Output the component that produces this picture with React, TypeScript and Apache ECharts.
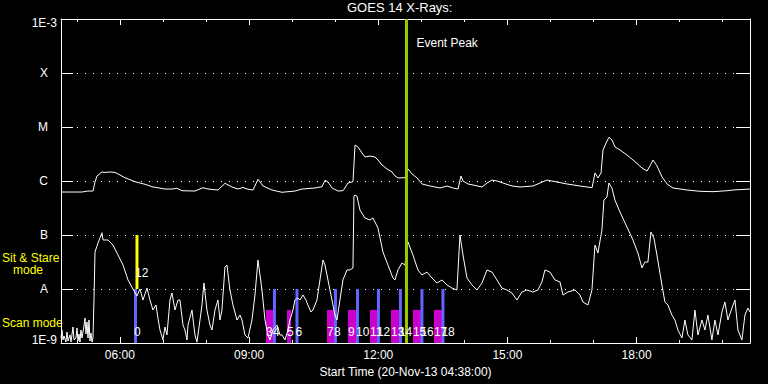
import React, { useEffect, useRef } from "react";
import * as echarts from "echarts";

const T_START = 4 + 38 / 60; // 04:38 UT
const T_END = T_START + 16;
const FONT = '"Liberation Sans", Arial, sans-serif';

const majorHours = [6, 9, 12, 15, 18];
const minorHours = [5, 6, 7, 8, 9, 10, 11, 12, 13, 14, 15, 16, 17, 18, 19, 20];
// labels for the decades 1E-9 ... 1E-3
const levelLabels = ["1E-9", "A", "B", "C", "M", "X", "1E-3"];

// GOES 14 long channel (1-8 A), [hour UT, W/m^2]
const longChannel: [number, number][] = [
  [4.633, 6.25e-7], [5.121, 6.25e-7], [5.167, 6.34e-7], [5.26, 6.52e-7], [5.376, 6.52e-7],
  [5.423, 9.58e-7], [5.469, 1.24e-6], [5.585, 1.47e-6], [5.655, 1.44e-6], [5.771, 1.47e-6],
  [5.887, 1.44e-6], [6.003, 1.29e-6], [6.119, 1.15e-6], [6.352, 9.7e-7], [6.584, 8.69e-7],
  [6.746, 7.84e-7], [7.048, 7.1e-7], [7.211, 7.1e-7], [7.327, 7.32e-7], [7.443, 6.61e-7],
  [7.745, 6.52e-7], [7.931, 7.51e-7], [8.047, 7.1e-7], [8.279, 6.81e-7], [8.442, 9.06e-7],
  [8.604, 7.74e-7], [8.744, 7.1e-7], [8.86, 7.58e-7], [8.953, 7.1e-7], [9.092, 6.81e-7],
  [9.208, 1.075e-6], [9.324, 8.08e-7], [9.533, 6.81e-7], [9.765, 6.18e-7], [10.067, 6.52e-7],
  [10.23, 7.1e-7], [10.532, 7.42e-7], [10.694, 7.84e-7], [10.764, 1.03e-6], [10.834, 9.58e-7],
  [10.927, 7.42e-7], [11.066, 6.52e-7], [11.182, 6.61e-7], [11.298, 9.18e-7], [11.414, 9.7e-7],
  [11.461, 4.64e-6], [11.53, 4.26e-6], [11.623, 3.3e-6], [11.693, 2.78e-6], [11.809, 2.9e-6],
  [11.925, 2.78e-6], [11.995, 2.45e-6], [12.088, 1.98e-6], [12.204, 1.67e-6], [12.32, 1.47e-6],
  [12.39, 1.24e-6], [12.459, 1.14e-6], [12.622, 1.15e-6], [12.692, 1.67e-6], [12.784, 1.35e-6],
  [12.901, 1.14e-6], [13.017, 8.8e-7], [13.203, 8.08e-7], [13.435, 7.42e-7], [13.597, 8.08e-7],
  [13.737, 7.42e-7], [13.853, 7.1e-7], [13.922, 1.24e-6], [13.969, 1.0e-6], [14.085, 8.8e-7],
  [14.201, 8.43e-7], [14.41, 7.74e-7], [14.526, 9.18e-7], [14.642, 1.04e-6], [14.758, 1.0e-6],
  [14.898, 9.18e-7], [15.107, 8.08e-7], [15.293, 7.74e-7], [15.594, 8.08e-7], [15.757, 9.18e-7],
  [15.92, 1.04e-6], [16.152, 9.58e-7], [16.384, 8.8e-7], [16.686, 8.08e-7], [16.965, 7.51e-7],
  [17.034, 1.41e-6], [17.104, 1.14e-6], [17.174, 1.41e-6], [17.22, 3.75e-6], [17.313, 5.5e-6],
  [17.359, 6.45e-6], [17.429, 5.74e-6], [17.499, 4.26e-6], [17.615, 3.75e-6], [17.777, 3.03e-6],
  [17.917, 2.45e-6], [18.126, 1.74e-6], [18.242, 1.53e-6], [18.311, 1.9e-6], [18.381, 2.45e-6],
  [18.474, 1.9e-6], [18.59, 1.19e-6], [18.706, 8.8e-7], [18.846, 7.42e-7], [19.171, 6.81e-7],
  [19.473, 6.45e-7], [19.775, 6.34e-7], [20.1, 6.61e-7], [20.239, 6.81e-7], [20.634, 7.1e-7],
];

// GOES 14 short channel (0.5-4 A), [hour UT, W/m^2]
const shortChannel: [number, number][] = [
  [4.633, 1.24e-9], [4.656, 1.74e-9], [4.679, 1.14e-9], [4.703, 1.35e-9], [4.749, 1.04e-9],
  [4.772, 1.6e-9], [4.796, 1.09e-9], [4.842, 1.41e-9], [4.865, 1.04e-9], [4.912, 1.98e-9],
  [4.935, 1.14e-9], [4.981, 1.24e-9], [5.005, 1.9e-9], [5.028, 1.09e-9], [5.051, 1.47e-9],
  [5.074, 1.04e-9], [5.097, 1.74e-9], [5.121, 1.24e-9], [5.167, 2.06e-9], [5.19, 2.9e-9],
  [5.214, 1.47e-9], [5.237, 2.45e-9], [5.26, 1.24e-9], [5.283, 2.67e-9], [5.306, 1.09e-9],
  [5.33, 1.53e-9], [5.353, 1.04e-9], [5.376, 1.24e-9], [5.399, 6.25e-9], [5.423, 4.84e-8],
  [5.492, 7.1e-8], [5.585, 1.1e-7], [5.608, 8.08e-8], [5.724, 8.08e-8], [5.84, 6.52e-8],
  [5.957, 4.26e-8], [6.073, 2.78e-8], [6.189, 1.47e-8], [6.305, 1.0e-8], [6.398, 7.42e-9],
  [6.467, 1.0e-8], [6.537, 6.25e-9], [6.63, 1.04e-8], [6.7, 6.25e-9], [6.769, 4.08e-9],
  [6.839, 5.05e-9], [6.885, 2.9e-9], [6.932, 1.74e-9], [7.001, 1.14e-9], [7.048, 1.98e-9],
  [7.094, 1.41e-9], [7.164, 6.25e-9], [7.21, 8.43e-9], [7.28, 4.08e-9], [7.35, 6.25e-9],
  [7.396, 6.25e-9], [7.466, 2.15e-9], [7.512, 1.74e-9], [7.559, 1.14e-9], [7.582, 2.15e-9],
  [7.675, 4.08e-9], [7.744, 1.41e-9], [7.791, 1.04e-9], [7.861, 2.67e-9], [7.907, 5.05e-9],
  [7.953, 1.29e-8], [8.023, 4.08e-9], [8.093, 2.15e-9], [8.139, 1.74e-9], [8.209, 4.08e-9],
  [8.278, 6.25e-9], [8.325, 2.67e-9], [8.371, 4.08e-9], [8.441, 2.55e-8], [8.487, 2.78e-8],
  [8.557, 9.58e-9], [8.627, 5.05e-9], [8.72, 2.67e-9], [8.789, 3.3e-9], [8.836, 2.67e-9],
  [8.905, 1.41e-9], [8.975, 1.24e-9], [9.068, 2.67e-9], [9.138, 7.74e-9], [9.207, 3.44e-8],
  [9.254, 1.82e-8], [9.3, 9.58e-9], [9.37, 2.67e-9], [9.44, 1.41e-9], [9.486, 1.14e-9],
  [9.556, 1.74e-9], [9.649, 2.15e-9], [9.718, 1.41e-9], [9.765, 1.41e-9], [9.834, 1.14e-9],
  [9.904, 1.74e-9], [9.95, 2.67e-9], [10.02, 4.08e-9], [10.066, 6.25e-9], [10.136, 6.81e-9],
  [10.183, 6.25e-9], [10.252, 7.74e-9], [10.322, 6.25e-9], [10.368, 5.05e-9], [10.438, 3.75e-9],
  [10.484, 4.08e-9], [10.577, 6.25e-9], [10.647, 1.47e-8], [10.717, 3.44e-8], [10.763, 2.78e-8],
  [10.81, 1.82e-8], [10.879, 9.58e-9], [10.949, 5.05e-9], [10.995, 3.3e-9], [11.042, 2.67e-9],
  [11.111, 6.25e-9], [11.181, 1.47e-8], [11.274, 2.25e-8], [11.344, 2.25e-8], [11.413, 2.45e-8],
  [11.437, 5.27e-7], [11.46, 5.5e-7], [11.506, 5.27e-7], [11.576, 2.9e-7], [11.692, 2.06e-7],
  [11.808, 1.9e-7], [11.878, 2.06e-7], [11.994, 1.35e-7], [12.11, 4.84e-8], [12.226, 2.78e-8],
  [12.342, 1.6e-8], [12.389, 1.47e-8], [12.458, 2.25e-8], [12.551, 3.03e-8], [12.621, 2.78e-8],
  [12.69, 7.42e-8], [12.806, 4.26e-8], [12.923, 2.25e-8], [13.015, 1.82e-8], [13.132, 2.06e-8],
  [13.248, 1.6e-8], [13.364, 1.29e-8], [13.48, 1.47e-8], [13.596, 1.19e-8], [13.712, 1.04e-8],
  [13.828, 9.58e-9], [13.898, 1.0e-7], [13.968, 4.26e-8], [14.061, 1.6e-8], [14.177, 1.19e-8],
  [14.293, 9.58e-9], [14.409, 1.29e-8], [14.525, 2.25e-8], [14.641, 2.06e-8], [14.757, 1.47e-8],
  [14.873, 1.04e-8], [14.989, 9.58e-9], [15.105, 8.43e-9], [15.221, 6.25e-9], [15.337, 8.8e-9],
  [15.454, 9.58e-9], [15.593, 8.8e-9], [15.709, 9.58e-9], [15.802, 1.35e-8], [15.871, 2.25e-8],
  [15.987, 2.06e-8], [16.104, 1.47e-8], [16.22, 1.35e-8], [16.29, 7.74e-9], [16.406, 8.8e-9],
  [16.568, 9.58e-9], [16.684, 7.74e-9], [16.754, 5.74e-9], [16.87, 5.05e-9], [16.963, 9.58e-9],
  [17.033, 6.52e-8], [17.102, 4.64e-8], [17.195, 1.24e-7], [17.241, 4.44e-7], [17.311, 5.05e-7],
  [17.357, 9.18e-7], [17.427, 7.42e-7], [17.497, 4.44e-7], [17.613, 2.67e-7], [17.775, 1.41e-7],
  [17.915, 8.08e-8], [18.031, 4.64e-8], [18.124, 2.45e-8], [18.193, 3.16e-8], [18.263, 3.16e-8],
  [18.333, 1.14e-7], [18.402, 8.8e-8], [18.472, 4.26e-8], [18.588, 1.19e-8], [18.658, 5.74e-9],
  [18.727, 5.05e-9], [18.82, 3.3e-9], [18.89, 2.67e-9], [18.96, 1.74e-9], [19.053, 1.24e-9],
  [19.122, 2.67e-9], [19.192, 1.41e-9], [19.285, 1.14e-9], [19.355, 4.08e-9], [19.424, 1.41e-9],
  [19.517, 2.67e-9], [19.587, 1.74e-9], [19.656, 3.3e-9], [19.749, 1.14e-9], [19.819, 2.67e-9],
  [19.889, 1.41e-9], [19.982, 3.75e-9], [20.051, 5.74e-9], [20.121, 2.67e-9], [20.214, 4.44e-9],
  [20.284, 6.25e-9], [20.353, 1.74e-9], [20.446, 1.14e-9], [20.516, 3.3e-9], [20.586, 4.44e-9],
  [20.632, 3.75e-9],
];

// Observation markers
const FLOOR = 1e-9;
const scanLineTop = 1e-8;
const scanBlockTop = 4.1e-9;
const scanLineTimes = [6.363, 9.59, 10.113, 11.007, 11.518, 12.005, 12.516, 13.015, 13.503];
const scanLineLabels = ["0", "4", "6", "8", "10", "12", "14", "16", "18"];
const scanBlockStart = [9.393, 9.881, 10.81, 11.297, 11.808, 12.296, 12.806, 13.294];
const scanBlockEnd = [9.579, 9.974, 11.019, 11.506, 11.971, 12.481, 12.992, 13.48];
const scanBlockLabels = ["3", "5", "7", "9", "11", "13", "15", "17"];
const stareTimes = [6.398];
const stareRange = [1e-8, 1e-7];
const stareLabels = ["12"];
const eventPeakTime = 12.656;

const fmtHour = (h: number) => String(Math.round(h)).padStart(2, "0") + ":00";

export default function App() {
  const ref = useRef<HTMLDivElement>(null);
  useEffect(() => {
    if (!ref.current) return;
    const chart = echarts.init(ref.current, null, { renderer: "svg" });

    const labelItems = [
      ...scanBlockStart.map((t, i) => ({ t, text: scanBlockLabels[i], dx: 0 })),
      ...scanLineTimes.map((t, i) => ({ t, text: scanLineLabels[i], dx: -1.5 })),
    ];

    const axisTextStyle = { color: "#fff", fontFamily: FONT, fontSize: 12 };

    const option: any = {
      animation: false,
      backgroundColor: "#000",
      title: {
        text: "GOES 14 X-Rays:",
        left: 347,
        top: 1,
        padding: 0,
        textStyle: { color: "#fff", fontFamily: FONT, fontSize: 13, fontWeight: "normal" },
      },
      grid: { left: 61, right: 18, top: 19, bottom: 41, outerBoundsMode: "none" },
      xAxis: [
        {
          type: "value",
          min: T_START,
          max: T_END,
          position: "bottom",
          axisLine: { show: true, lineStyle: { color: "#fff", width: 1 } },
          axisTick: { show: true, inside: true, length: 6, customValues: majorHours, lineStyle: { color: "#fff" } },
          axisLabel: { show: true, customValues: majorHours, formatter: fmtHour, margin: 6, ...axisTextStyle },
          splitLine: { show: false },
          name: "Start Time (20-Nov-13 04:38:00)",
          nameLocation: "middle",
          nameGap: 20,
          nameTextStyle: axisTextStyle,
        },
        {
          type: "value",
          min: T_START,
          max: T_END,
          position: "bottom",
          axisLine: { show: false },
          axisTick: { show: true, inside: true, length: 3, customValues: minorHours, lineStyle: { color: "#fff" } },
          axisLabel: { show: false },
          splitLine: { show: false },
        },
        {
          type: "value",
          min: T_START,
          max: T_END,
          position: "top",
          axisLine: { show: true, lineStyle: { color: "#fff", width: 1 } },
          axisTick: { show: true, inside: true, length: 6, customValues: majorHours, lineStyle: { color: "#fff" } },
          axisLabel: { show: false },
          splitLine: { show: false },
        },
        {
          type: "value",
          min: T_START,
          max: T_END,
          position: "top",
          axisLine: { show: false },
          axisTick: { show: true, inside: true, length: 3, customValues: minorHours, lineStyle: { color: "#fff" } },
          axisLabel: { show: false },
          splitLine: { show: false },
        },
      ],
      yAxis: [
        {
          type: "log",
          logBase: 10,
          min: 1e-9,
          max: 1e-3,
          splitNumber: 6,
          position: "left",
          axisLine: { show: true, lineStyle: { color: "#fff", width: 1 } },
          axisTick: { show: true, inside: true, length: 12, lineStyle: { color: "#fff" } },
          axisLabel: {
            margin: 4,
            ...axisTextStyle,
            formatter: (v: number) => {
              const e = Math.round(Math.log10(v));
              const s = levelLabels[e + 9] ?? "";
              if (e === -3) return "{top|" + s + "}";
              if (e === -9) return "{bot|" + s + "}";
              return "{cls|" + s + "}";
            },
            rich: {
              top: { color: "#fff", fontFamily: FONT, fontSize: 12, padding: [8, 0, 0, 0] },
              bot: { color: "#fff", fontFamily: FONT, fontSize: 12, padding: [0, 0, 6, 0] },
              cls: { color: "#fff", fontFamily: FONT, fontSize: 12, padding: [0, 9, 0, 0] },
            },
          },
          splitLine: { show: true, lineStyle: { color: "#fff", width: 1, type: [1, 7] } },
        },
        {
          type: "log",
          logBase: 10,
          min: 1e-9,
          max: 1e-3,
          splitNumber: 6,
          position: "right",
          axisLine: { show: true, lineStyle: { color: "#fff", width: 1 } },
          axisTick: { show: true, inside: true, length: 14, lineStyle: { color: "#fff" } },
          axisLabel: { show: false },
          splitLine: { show: false },
        },
      ],
      graphic: [
        { type: "text", left: 2, top: 252, style: { text: "Sit & Stare", fill: "#ffff00", font: "12px " + FONT } },
        { type: "text", left: 13, top: 264, style: { text: "mode", fill: "#ffff00", font: "12px " + FONT } },
        { type: "text", left: 2, top: 317, style: { text: "Scan mode", fill: "#ffff00", font: "12px " + FONT } },
      ],
      series: [
        {
          type: "custom",
          name: "scan blocks",
          z: 2,
          encode: { x: [0, 2], y: 1 },
          data: scanBlockStart.map((s, i) => [s, FLOOR, scanBlockEnd[i]]),
          renderItem: (params: any, api: any) => {
            const p0 = api.coord([api.value(0), FLOOR]);
            const p1 = api.coord([api.value(2), scanBlockTop]);
            return {
              type: "rect",
              shape: { x: p0[0], y: p1[1], width: p1[0] - p0[0], height: p0[1] - p1[1] },
              style: { fill: "#cc00cc" },
            };
          },
        },
        {
          type: "custom",
          name: "scan lines",
          z: 3,
          encode: { x: 0, y: 1 },
          data: scanLineTimes.map((t) => [t, FLOOR]),
          renderItem: (params: any, api: any) => {
            const pb = api.coord([api.value(0), FLOOR]);
            const pt = api.coord([api.value(0), scanLineTop]);
            return {
              type: "rect",
              shape: { x: pb[0] - 1.5, y: pt[1], width: 3, height: pb[1] - pt[1] },
              style: { fill: "#6464ff" },
            };
          },
        },
        {
          type: "custom",
          name: "sit and stare",
          z: 3,
          encode: { x: 0, y: 1 },
          data: stareTimes.map((t) => [t, stareRange[0]]),
          renderItem: (params: any, api: any) => {
            const pb = api.coord([api.value(0), stareRange[0]]);
            const pt = api.coord([api.value(0), stareRange[1]]);
            return {
              type: "group",
              children: [
                {
                  type: "rect",
                  shape: { x: pb[0] - 1.5, y: pt[1], width: 3, height: pb[1] - pt[1] },
                  style: { fill: "#ffff00" },
                },
                {
                  type: "text",
                  x: pb[0] - 2,
                  y: pb[1] - 16.5,
                  z2: 10,
                  style: {
                    text: stareLabels[params.dataIndex],
                    fill: "#fff",
                    font: "12px " + FONT,
                    align: "left",
                    verticalAlign: "middle",
                  },
                },
              ],
            };
          },
        },
        {
          type: "line",
          name: "long",
          z: 4,
          data: longChannel,
          showSymbol: false,
          symbol: "none",
          lineStyle: { color: "#fff", width: 1 },
        },
        {
          type: "line",
          name: "short",
          z: 4,
          data: shortChannel,
          showSymbol: false,
          symbol: "none",
          lineStyle: { color: "#fff", width: 1 },
        },
        {
          type: "custom",
          name: "event peak",
          z: 5,
          encode: { x: 0, y: 1 },
          data: [[eventPeakTime, FLOOR]],
          renderItem: (params: any, api: any) => {
            const p = api.coord([api.value(0), FLOOR]);
            const cs = params.coordSys;
            return {
              type: "group",
              children: [
                {
                  type: "rect",
                  shape: { x: p[0] - 1.5, y: cs.y, width: 3, height: cs.height },
                  style: { fill: "#99cc00" },
                },
                {
                  type: "text",
                  x: p[0] + 10,
                  y: cs.y + 24,
                  style: {
                    text: "Event Peak",
                    fill: "#fff",
                    font: "12px " + FONT,
                    align: "left",
                    verticalAlign: "middle",
                  },
                },
              ],
            };
          },
        },
        {
          type: "custom",
          name: "labels",
          z: 6,
          encode: { x: 0, y: 1 },
          data: labelItems.map((l) => [l.t, FLOOR]),
          renderItem: (params: any, api: any) => {
            const item = labelItems[params.dataIndex];
            const p = api.coord([api.value(0), FLOOR]);
            return {
              type: "text",
              x: p[0] + item.dx,
              y: p[1] - 11,
              style: {
                text: item.text,
                fill: "#fff",
                font: "12px " + FONT,
                align: "left",
                verticalAlign: "middle",
              },
            };
          },
        },
      ],
    };

    chart.setOption(option);
    return () => chart.dispose();
  }, []);

  return (
    <div
      ref={ref}
      style={{ position: "fixed", left: 0, top: 0, width: 768, height: 384, background: "#000" }}
    />
  );
}
